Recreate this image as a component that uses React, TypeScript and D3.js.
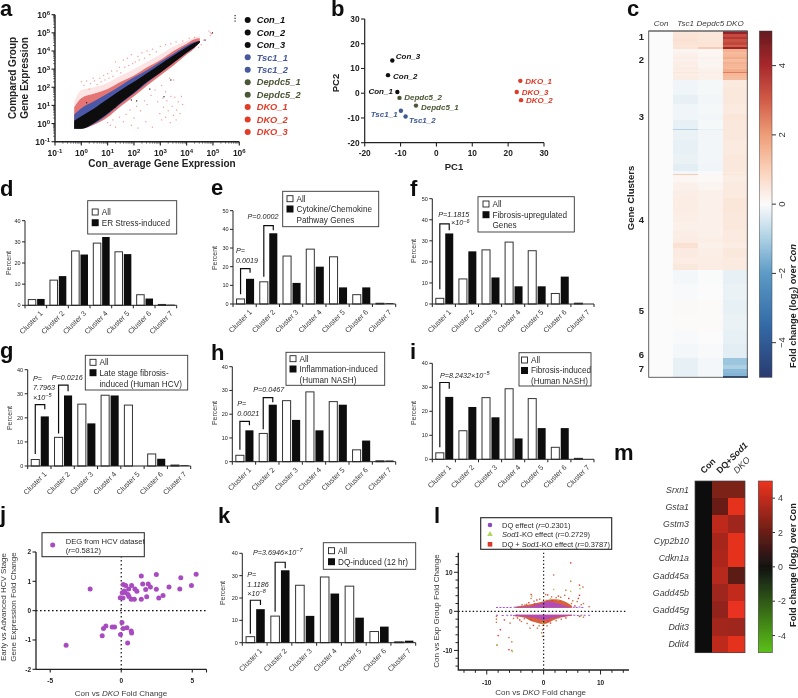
import React from "react";
import * as d3 from "d3";

// ---------- shared ----------
const FONT = "'Liberation Sans', Arial, sans-serif";
const clusters = ["Cluster 1", "Cluster 2", "Cluster 3", "Cluster 4", "Cluster 5", "Cluster 6", "Cluster 7"];

// ---------- bar panels (percent per cluster) ----------
const allGenes = [2.7, 11.9, 25.7, 29.4, 25.3, 5.0, 0.4];
const erStress = [3.0, 13.8, 24.0, 32.3, 24.2, 3.2, 0.3];
const cytokine = [13.5, 37.9, 11.3, 20.0, 8.9, 8.9, 0.4];
const fibrosisUp = [33.5, 25.0, 12.6, 8.4, 8.4, 13.0, 0.0];
const lateFibrosis = [20.6, 29.3, 17.7, 29.3, 0.0, 3.0, 0.3];
const inflammation = [13.2, 24.0, 17.6, 13.2, 24.0, 8.9, 0.5];
const fibrosisInduced = [26.0, 21.8, 17.5, 8.7, 13.0, 13.0, 0.0];
const dqInduced = [15.0, 32.4, 12.0, 22.0, 11.2, 7.2, 0.9];

// ---------- panel a (log10 units) ----------
const aBandX = [-0.27, 0, 0.5, 1, 1.5, 2, 2.5, 3, 3.5, 4, 4.3, 4.5];
const aBlackLo = [-0.28, -0.28, 0.05, 0.55, 1.15, 1.7, 2.3, 2.8, 3.35, 3.9, 4.2, 4.45];
const aBlackHi = [0.15, 0.4, 0.85, 1.35, 1.85, 2.3, 2.78, 3.27, 3.75, 4.2, 4.45, 4.55];
const aBlueLo = [-0.28, -0.28, 0, 0.5, 1.1, 1.65, 2.25, 2.8, 3.35, 3.9, 4.2, 4.5];
const aBlueHi = [0.5, 0.85, 1.25, 1.65, 2.1, 2.55, 2.95, 3.4, 3.85, 4.3, 4.5, 4.55];
const aRedLo = [-0.28, -0.28, -0.05, 0.35, 0.95, 1.5, 2.1, 2.65, 3.2, 3.8, 4.15, 4.5];
const aRedHi = [0.9, 1.4, 1.65, 1.9, 2.3, 2.65, 3.1, 3.5, 4.0, 4.4, 4.65, 4.7];
const aPinkHi = [1.2, 1.85, 2.0, 2.25, 2.65, 3.0, 3.4, 3.8, 4.25, 4.55, 4.75, 4.8];
const aPinkPts: [number, number][] = [
  [0.0, 2.3], [0.1, 2.1], [0.2, 2.35], [0.3, 1.9], [0.35, 2.2], [0.45, 2.5], [0.5, 2.35], [0.6, 2.15], [0.7, 2.5], [0.75, 2.3],
  [0.85, 2.65], [0.9, 2.4], [1.0, 2.75], [1.05, 2.5], [1.15, 2.9], [1.2, 2.6], [1.3, 3.4], [1.35, 2.9], [1.45, 3.1], [1.5, 2.8],
  [1.6, 3.5], [1.65, 3.1], [1.75, 3.6], [1.8, 3.2], [1.9, 3.8], [1.95, 3.3], [2.05, 3.4], [2.15, 3.7], [2.2, 3.5], [2.3, 3.9],
  [2.4, 3.6], [2.5, 4.0], [2.6, 3.8], [2.7, 4.1], [2.85, 3.95], [3.0, 4.25], [3.2, 4.35], [3.4, 4.4], [3.6, 4.5], [3.85, 4.55], [4.1, 4.7], [4.3, 4.75],
  [1.0, 0.05], [1.1, -0.1], [1.2, 0.2], [1.3, -0.2], [1.45, 0.35], [1.6, 0.1], [1.7, 0.5], [1.85, 0.75], [2.0, 0.3], [2.1, 0.95], [2.25, 0.7],
  [2.4, 1.25], [2.5, 1.05], [2.65, 1.55], [2.8, 1.85], [2.9, 1.2], [3.05, 2.1], [3.2, 1.75], [3.35, 2.5], [3.5, 2.4],
  [2.98, 0.55], [3.05, 0.2], [3.12, 0.9], [3.2, 0.35], [3.25, 1.25], [3.3, 0.7], [3.38, 0.05], [3.45, 0.95], [3.5, 0.45], [3.55, 1.45],
  [3.62, 0.75], [3.68, 1.2], [3.75, 0.55], [3.8, 1.5], [3.85, 1.05], [3.4, 1.5], [3.1, 1.4], [3.6, 0.2],
  [2.7, -0.2], [2.45, 0.1], [2.15, -0.25], [1.9, -0.1], [4.45, 4.2], [4.55, 4.35], [4.65, 4.6], [4.85, 5.1], [4.9, 5.0], [4.95, 4.95], [4.9, 4.85],
];
const aBlackPts: [number, number][] = [
  [5.84, 5.95], [5.84, 5.8], [5.84, 5.65], [4.98, 5.0], [3.14, 1.48], [1.9, 1.3], [2.6, 1.9], [0.2, 1.15], [3.4, 2.4], [2.1, 1.25], [1.3, 0.9], [4.7, 4.6],
];
const aLegendNames = ["Con_1", "Con_2", "Con_3", "Tsc1_1", "Tsc1_2", "Depdc5_1", "Depdc5_2", "DKO_1", "DKO_2", "DKO_3"];
const aExponents = [-1, 0, 1, 2, 3, 4, 5, 6];

// ---------- panel b ----------
const pcaNames = ["Con_3", "Con_2", "Con_1", "Depdc5_2", "Depdc5_1", "Tsc1_1", "Tsc1_2", "DKO_1", "DKO_3", "DKO_2"];
const pc1 = [-12.3, -13.5, -10.9, -10.3, -5.7, -9.9, -8.6, 23.4, 22.4, 23.6];
const pc2 = [13.2, 7.3, 0.5, -1.9, -5.0, -7.1, -9.4, 5.0, 0.5, -2.8];

// ---------- panel c ----------
const heatCols = ["Con", "Tsc1", "Depdc5", "DKO"];
const rowWeight = [8, 10, 6, 10, 8, 7, 6, 8, 6, 10, 5, 9, 7, 10, 4, 8, 3, 10, 12, 20, 25, 25, 30, 20, 25, 5, 30, 40, 30, 20, 10, 3, 20, 25, 25, 40, 30, 25, 25, 15, 15, 25, 20, 20, 40, 50, 40, 50, 40, 42, 20, 14, 12, 8, 4];
const rowTsc1 = [0.5, 0.55, 0.55, 0.6, 0.55, 0.5, 0.55, 0.15, 0.2, 0.25, 0.3, 0.25, 0.3, 0.3, 0.4, 0.3, 0.5, 0.3, 0.35, -0.15, -0.15, -0.25, -0.15, -0.15, -0.25, -0.9, -0.2, -0.25, -0.2, -0.3, -0.1, 1.1, 0.12, 0.25, 0.3, 0.35, 0.3, 0.25, 0.3, 0.35, 0.6, 0.4, 0.35, 0.45, -0.1, -0.05, 0.05, 0.03, -0.05, -0.1, -0.25, -0.25, -0.25, -0.25, -0.25];
const rowDepdc5 = [0.45, 0.5, 0.5, 0.5, 0.55, 0.5, 1.1, 0.1, 0.12, 0.12, 0.2, 0.15, 0.15, 0.15, 0.2, 0.25, 0.3, 0.25, 0.25, -0.08, -0.08, -0.12, -0.08, -0.12, -0.08, -0.25, -0.12, -0.12, -0.12, -0.15, -0.05, 0.1, 0.08, 0.15, 0.25, 0.25, 0.25, 0.25, 0.25, 0.3, 0.25, 0.3, 0.35, 0.35, -0.03, 0, 0.03, 0.03, 0, -0.05, -0.1, -0.1, -0.1, -0.1, -0.1];
const rowDko = [4.3, 3.3, 3.7, 3.2, 3.4, 3.0, 4.2, 1.6, 1.4, 1.5, 1.7, 1.4, 1.6, 1.5, 1.4, 1.7, 2.5, 1.5, 1.4, 0.4, 0.45, 0.45, 0.4, 0.5, 0.45, 0.5, 0.45, 0.4, 0.45, 0.45, 0.4, 0.5, 0.35, 0.4, 0.4, 0.5, 0.45, 0.45, 0.4, 0.4, 0.35, 0.45, 0.4, 0.4, -0.25, -0.2, -0.25, -0.2, -0.25, -0.3, -1.2, -1.0, -1.4, -1.5, -4.6];
const clusterLabelNames = ["1", "2", "3", "4", "5", "6", "7"];
const clusterLabelRows = [17, 87, 255, 564, 837, 967, 1009];
const divergingTicks = [4, 2, 0, -2, -4];
const divergingDomain = [-5, -3.5, -2, -1, 0, 1, 2, 3, 4, 5];
const divergingColors = ["#2a3b70", "#336aa6", "#5c9ac6", "#acd0e4", "#fbfbfb", "#fbd0b8", "#ee9d78", "#d15c47", "#a9282c", "#641a20"];

// ---------- panel j ----------
const jX = [-2.19, -3.88, 5.27, 4.94, 4.19, 4.12, 3.36, 2.94, 2.64, 2.47, 2.47, 2.05, 1.9, 1.72, 1.79, 1.51, 1.41, 1.41, 1.1, 0.96, 0.73, 0.7, 0.92, 0.54, 0.52, 0.31, 0.14, 0.21, 0.07, 0.28, -0.07, 0.12, 0.47, 0.05, 0.14, 0.4, 0.7, 0.73, -0.05, 0.45, -1.34, -1.25, -1.08, -0.64, -0.47];
const jY = [0.74, -1.18, 1.24, 0.86, 1.12, 0.74, 0.81, 0.52, 0.43, 1.23, 0.73, 0.81, 0.91, 0.72, 0.47, 0.91, 1.18, 0.39, 0.66, 0.74, 0.86, 0.39, 0.39, 0.48, 0.74, 0.86, 0.89, 0.67, 0.61, 0.62, 0.44, 0.43, 0.55, -0.4, -0.61, -0.58, -0.69, -0.76, -0.81, -1.1, -0.86, -0.61, -0.52, -0.56, -0.56];

// ---------- panel l ----------
const lUpX = [-5, -3.5, -2, -1, 0, 1, 2, 3, 4, 5];
const lUpRed = [1.2, 1.5, 1.9, 2.2, 2.6, 3.0, 3.1, 2.9, 2.3, 1.4];
const lUpPurple = [1.0, 1.15, 1.4, 1.8, 2.3, 2.6, 2.2, 1.8, 1.3, 1.0];
const lLowX = [-5, -3.5, -2, -1, 0, 1, 2, 3, 4, 5];
const lLowRed = [-1.3, -1.6, -2.6, -3.0, -3.3, -2.8, -2.1, -1.6, -1.3, -1.1];
const lLowPurple = [-1.1, -1.3, -1.6, -1.9, -2.2, -1.9, -1.6, -1.4, -1.2, -1.05];
const lOrangePts: [number, number][] = [
  [4.75, 12.4], [1.76, 9.3], [4.75, 7.7], [6.3, 6.7], [6.9, 6.2], [3.9, 5.4], [-2.2, 4.3], [-2.2, 3.3], [0.35, 4.3], [0.7, 4.2], [-3, 1.8], [-3.3, 1.6],
  [6.3, 4.1], [7, 2], [8, 1.2], [6.1, 3.3], [5.9, 2.5], [5.1, 2.7], [4.4, 3.3], [3.7, 4.1], [3.0, 3.6], [2.6, 3.9], [2.2, 3.5], [1.4, 3.7], [-1.2, 2.9], [-0.7, 3.1], [-1.7, 2.6], [-2.6, 2.2], [-3.8, 1.7], [4.9, 2.0], [5.5, 1.4], [6.6, 1.7],
  [-8.2, -8.7], [-8, -6.2], [-6.1, -6.7], [-5.6, -7.8], [-6.1, -9.8], [-5.6, -10], [-8.3, -2.8], [-6.9, -2.2], [-5.9, -3], [-5.3, -1.8], [-7.6, -4.7], [-0.2, -6.4], [-0.2, -4.7], [-0.1, -3.6],
  [-2.4, -4.3], [-3.9, -2.6], [-4.2, -2.2], [-1.1, -4.3], [-0.35, -5.5], [-1.8, -3.6], [-2.9, -3.1], [-3.4, -1.9], [-4.6, -1.7], [-0.8, -3.7], [0.6, -3.7], [1.2, -3.0], [2.2, -2.4], [3.1, -2.0], [3.9, -1.7], [-8.3, -2.0], [-8.3, -1.3], [6.3, -1.3], [7.0, -1.5],
  [-2.6, 1.4], [-1.6, 1.9], [-0.6, 2.1], [0.5, 2.8], [1.5, 2.7], [2.4, 2.4], [3.4, 2.2], [-2.2, -2.2], [-1.2, -2.6], [-0.3, -2.9], [0.8, -2.5], [1.7, -2.0], [2.7, -1.6],
];
const lGreenPts: [number, number][] = [[4.75, 5.1], [1.76, 5.6], [-2.1, 3.9], [-8.2, -8.5], [-5.5, -10.3], [-0.2, -2.9], [0, -3.2], [6.4, 5.8], [1.2, 3.2], [6.5, -1.2], [2.6, 2.9]];
const lPurplePts: [number, number][] = [
  [-8.2, 1], [-7.6, 1], [-7, 1], [-6.4, 1], [-5.8, 1], [-5.1, 1.05], [-4.6, 1], [5.3, 1.05], [5.8, 1], [6.3, 1.1], [6.8, 1], [8, -1], [7.2, -1],
  [-8.2, -1], [-7.2, -1.05], [-6.4, -1], [-5.7, -1], [-5.2, -1.1], [-4.7, -1], [5.4, -1], [6, -1.05], [6.6, -1],
];

// ---------- panel m ----------
const genes = ["Srxn1", "Gsta1", "Gstm3", "Cyp2b10", "Cdkn1a", "Gadd45a", "Gadd45b", "Gadd45g", "Ddit3", "Ddit4"];
const mCon = [0, 0, 0, 0, 0, 0, 0, 0, 0, 0];
const mDq = [2.4, 2.0, 3.9, 3.4, 3.5, 3.7, 3.2, 2.9, 3.3, 3.9];
const mDko = [2.4, 4.8, 3.2, 4.8, 4.8, 1.7, 4.0, 4.9, 3.2, 4.8];
const mTicks = [4, 2, 0, -2, -4];

// ---------- layout of bar panels ----------
type Bracket = { c: number; lo: number; top: number; hi: number };
type Note = { x: number; y: number; t: string; sup?: string };
type BarCfg = {
  values: number[]; left: number; right: number; y0: number; yTop: number; yMax: number;
  percentX: number; percentY: number; box: number[]; rows: number[]; lines: string[]; textX: number;
  brackets: Bracket[]; notes: Note[];
};
const barPanels: BarCfg[] = [
  { values: erStress, left: 25, right: 176.7, y0: 305.3, yTop: 220.7, yMax: 40, percentX: 9, percentY: 263, box: [87.7, 200.7, 176.7, 234], rows: [212, 222.7], lines: ["All", "ER Stress-induced"], textX: 101.7, brackets: [], notes: [] },
  { values: cytokine, left: 233, right: 395.7, y0: 304, yTop: 210.7, yMax: 50, percentX: 215, percentY: 258, box: [282.7, 191.3, 378.7, 226.7], rows: [198.7, 209, 220], lines: ["All", "Cytokine/Chemokine", "Pathway Genes"], textX: 296.5,
    brackets: [{ c: 0, lo: 5.2, top: 19, hi: 16.8 }, { c: 1, lo: 14.6, top: 42, hi: 39.5 }],
    notes: [{ x: 236, y: 253, t: "P=" }, { x: 236, y: 263, t: "0.0019" }, { x: 247.5, y: 218.7, t: "P=0.0002" }] },
  { values: fibrosisUp, left: 432.3, right: 594, y0: 304, yTop: 198.7, yMax: 50, percentX: 414, percentY: 251, box: [478, 196.7, 574.3, 232], rows: [204, 214.7, 225.3], lines: ["All", "Fibrosis-upregulated", "Genes"], textX: 492.5,
    brackets: [{ c: 0, lo: 7, top: 38, hi: 35 }],
    notes: [{ x: 438.3, y: 216.7, t: "P=1.1815" }, { x: 451, y: 225, t: "×10", sup: "−6" }] },
  { values: lateFibrosis, left: 27.7, right: 190.7, y0: 466, yTop: 369.7, yMax: 40, percentX: 10, percentY: 418, box: [85.3, 355.3, 187.7, 390], rows: [362.3, 372.7, 383.7], lines: ["All", "Late stage fibrosis-", "induced (Human HCV)"], textX: 99.5,
    brackets: [{ c: 0, lo: 5, top: 25.5, hi: 23.6 }, { c: 1, lo: 13.5, top: 33.6, hi: 31 }],
    notes: [{ x: 33, y: 381, t: "P=" }, { x: 33, y: 390, t: "7.7963" }, { x: 33, y: 399.5, t: "×10", sup: "−5" }, { x: 51.7, y: 380, t: "P=0.0216" }] },
  { values: inflammation, left: 232.3, right: 395.7, y0: 461.7, yTop: 366.7, yMax: 40, percentX: 215, percentY: 413, box: [286, 352.3, 384.7, 385.3], rows: [358.7, 369, 379.7], lines: ["All", "Inflammation-induced", "(Human NASH)"], textX: 299.5,
    brackets: [{ c: 0, lo: 5, top: 17, hi: 15.3 }, { c: 1, lo: 13.7, top: 27, hi: 25 }],
    notes: [{ x: 237.3, y: 406, t: "P=" }, { x: 237.3, y: 416, t: "0.0021" }, { x: 253.3, y: 391.7, t: "P=0.0467" }] },
  { values: fibrosisInduced, left: 432.3, right: 594, y0: 459.3, yTop: 363.3, yMax: 40, percentX: 414, percentY: 413, box: [519, 352.7, 591, 386], rows: [360, 370.5, 381], lines: ["All", "Fibrosis-induced", "(Human NASH)"], textX: 531,
    brackets: [{ c: 0, lo: 5, top: 32, hi: 29.4 }],
    notes: [{ x: 440, y: 377.7, t: "P=8.2432×10", sup: "−5" }] },
  { values: dqInduced, left: 242.3, right: 415.7, y0: 642.7, yTop: 553.3, yMax: 40, percentX: 222.7, percentY: 593, box: [323.3, 542.7, 415.7, 569.3], rows: [550.7, 561.7], lines: ["All", "DQ-induced (12 hr)"], textX: 338,
    brackets: [{ c: 0, lo: 4, top: 19, hi: 16.9 }, { c: 1, lo: 13.9, top: 36, hi: 33.3 }],
    notes: [{ x: 247.3, y: 577, t: "P=" }, { x: 247.3, y: 587, t: "1.1186" }, { x: 247.3, y: 595.5, t: "×10", sup: "−8" }, { x: 253, y: 554.7, t: "P=3.6946×10", sup: "−7" }] },
];
const panelLetters: [string, number, number][] = [
  ["a", 0, 16], ["b", 331, 16], ["c", 627, 16], ["d", 0, 196], ["e", 211, 195], ["f", 410, 196], ["g", 0, 358],
  ["h", 211, 360], ["i", 410, 359], ["j", 0, 522], ["k", 218, 523], ["l", 434, 523], ["m", 614, 460],
];

const AXIS = "#222";
const GREY = "#3a3a3a";

function BarPanel({ cfg }: { cfg: BarCfg }) {
  const x = d3.scaleBand<string>().domain(clusters).range([cfg.left, cfg.right]);
  const inner = d3.scaleBand<string>().domain(["all", "sel"]).range([0, x.bandwidth()]).paddingInner(0.15).paddingOuter(0.3).align(0.62);
  const y = d3.scaleLinear().domain([0, cfg.yMax]).range([cfg.y0, cfg.yTop]);
  const w = inner.bandwidth();
  return (
    <g>
      {clusters.map((c, i) => (
        <g key={c}>
          <rect x={x(c)! + inner("all")!} y={y(allGenes[i])} width={w} height={cfg.y0 - y(allGenes[i])} fill="#fff" stroke="#333" strokeWidth={1} />
          <rect x={x(c)! + inner("sel")!} y={y(cfg.values[i])} width={w} height={cfg.y0 - y(cfg.values[i])} fill="#0c0c0c" />
          <text transform={`translate(${x(c)! + x.bandwidth() * 0.72},${cfg.y0 + 6}) rotate(-45)`} textAnchor="end" fontSize={7.3} fill={GREY} dy="0.5em">{c}</text>
        </g>
      ))}
      <path d={`M${cfg.left},${cfg.yTop}V${cfg.y0}H${cfg.right}`} fill="none" stroke={AXIS} strokeWidth={1} />
      {d3.range(0, cfg.yMax + 1, 10).map((t) => (
        <g key={t}>
          <line x1={cfg.left - 3} x2={cfg.left} y1={y(t)} y2={y(t)} stroke={AXIS} />
          <text x={cfg.left - 4.5} y={y(t)} dy="0.35em" textAnchor="end" fontSize={5.5} fill="#222">{t}</text>
        </g>
      ))}
      {d3.range(0, 8).map((i) => (
        <line key={i} x1={cfg.left + i * x.bandwidth()} x2={cfg.left + i * x.bandwidth()} y1={cfg.y0} y2={cfg.y0 + 3} stroke={AXIS} />
      ))}
      <text transform={`translate(${cfg.percentX + 2},${cfg.percentY}) rotate(-90)`} textAnchor="middle" fontSize={7} fill={GREY}>Percent</text>
      {cfg.brackets.map((b) => {
        const c = clusters[b.c];
        const xa = x(c)! + inner("all")! + w / 2;
        const xb = x(c)! + inner("sel")! + w / 2;
        return <path key={b.c} d={`M${xa},${y(b.lo)}V${y(b.top)}H${xb}V${y(b.hi)}`} fill="none" stroke="#111" strokeWidth={1.2} />;
      })}
      {cfg.notes.map((n, i) => (
        <text key={i} x={n.x} y={n.y} fontSize={7.2} fontStyle="italic" fill="#222">
          {n.t}
          {n.sup && <tspan dy={-2.5} fontSize={5.5}>{n.sup}</tspan>}
        </text>
      ))}
      <rect x={cfg.box[0]} y={cfg.box[1]} width={cfg.box[2] - cfg.box[0]} height={cfg.box[3] - cfg.box[1]} fill="#fff" stroke="#333" strokeWidth={0.9} />
      {cfg.lines.map((l, i) => (
        <g key={i}>
          {i === 0 && <rect x={cfg.textX - 9.5} y={cfg.rows[0] - 3} width={6} height={6} fill="#fff" stroke="#222" strokeWidth={0.9} />}
          {i === 1 && <rect x={cfg.textX - 10} y={cfg.rows[1] - 3.5} width={7} height={7} fill="#111" />}
          <text x={cfg.textX} y={cfg.rows[i]} dy="0.35em" fontSize={8.2} fill="#2a2a2a">{l}</text>
        </g>
      ))}
    </g>
  );
}

function PanelA() {
  const x = d3.scaleLinear().domain([-1, 6]).range([55, 239.3]);
  const y = d3.scaleLinear().domain([-1, 6]).range([141.7, 14.7]);
  const band = (lo: number[], hi: number[]) =>
    d3.area<number>().x((_, i) => x(aBandX[i])).y0((_, i) => y(lo[i])).y1((_, i) => y(hi[i])).curve(d3.curveMonotoneX)(aBandX) || "";
  const names = d3.scaleOrdinal<string, string>().domain(["Con", "Tsc1", "Dep", "DKO"]).range(["#111", "#46589c", "#4c5636", "#e23a27"]);
  const groupOf = (n: string) => (n.startsWith("Con") ? "Con" : n.startsWith("Tsc") ? "Tsc1" : n.startsWith("Dep") ? "Dep" : "DKO");
  const rowY = d3.scaleLinear().domain([0, 9]).range([20, 132]);
  return (
    <g>
      <path d={band(aRedLo, aPinkHi)} fill="#f7bcbc" opacity={0.4} />
      <path d={band(aRedLo, aRedHi)} fill="#dd4a48" opacity={0.72} />
      {aPinkPts.map((p, i) => <rect key={i} x={x(p[0]) - 0.6} y={y(p[1]) - 0.6} width={1.2} height={1.2} fill="#f29a9a" />)}
      <path d={band(aBlueLo, aBlueHi)} fill="#4c58a8" />
      <path d={band(aBlackLo, aBlackHi)} fill="#0a0a0a" />
      {aBlackPts.map((p, i) => <rect key={i} x={x(p[0]) - 0.6} y={y(p[1]) - 0.6} width={1.2} height={1.2} fill="#222" />)}
      <path d={`M55,14.7V141.7H239.3`} fill="none" stroke={AXIS} strokeWidth={1.4} />
      {aExponents.map((e) => (
        <g key={e}>
          <line x1={51.5} x2={55} y1={y(e)} y2={y(e)} stroke={AXIS} strokeWidth={1.1} />
          <line x1={x(e)} x2={x(e)} y1={141.7} y2={145.5} stroke={AXIS} strokeWidth={1.1} />
          {e < 6 && d3.range(2, 10).map((m) => (
            <g key={m}>
              <line x1={53} x2={55} y1={y(e + Math.log10(m))} y2={y(e + Math.log10(m))} stroke={AXIS} strokeWidth={0.6} />
              <line x1={x(e + Math.log10(m))} x2={x(e + Math.log10(m))} y1={141.7} y2={143.7} stroke={AXIS} strokeWidth={0.6} />
            </g>
          ))}
          <text x={50} y={y(e) + 3.5} textAnchor="end" fontSize={8.5} fontWeight="bold" fill="#222">10<tspan dy={-3} fontSize={6}>{e < 0 ? "-1" : e}</tspan></text>
          <text x={x(e)} y={156} textAnchor="middle" fontSize={8.5} fontWeight="bold" fill="#222">10<tspan dy={-3} fontSize={6}>{e < 0 ? "-1" : e}</tspan></text>
        </g>
      ))}
      <text transform="translate(16,78) rotate(-90)" textAnchor="middle" fontSize={10} fontWeight="bold" fill="#222">Compared Group</text>
      <text transform="translate(28,78) rotate(-90)" textAnchor="middle" fontSize={10} fontWeight="bold" fill="#222">Gene Expression</text>
      <text x={162} y={167} textAnchor="middle" fontSize={10} fontWeight="bold" fill="#222">Con_average Gene Expression</text>
      {aLegendNames.map((n, i) => (
        <g key={n}>
          <circle cx={247.7} cy={rowY(i)} r={3} fill={names(groupOf(n))} />
          <text x={256.7} y={rowY(i)} dy="0.35em" fontSize={9.3} fontWeight="bold" fontStyle="italic" fill={names(groupOf(n))}>{n}</text>
        </g>
      ))}
    </g>
  );
}

function PanelB() {
  const x = d3.scaleLinear().domain([-20, 30]).range([364.7, 544]);
  const y = d3.scaleLinear().domain([-20, 30]).range([142.7, 19]);
  const color = (n: string) => (n.startsWith("Con") ? "#111" : n.startsWith("Tsc") ? "#3f5a90" : n.startsWith("Dep") ? "#4c5636" : "#dd3a27");
  const labelDx = [3.5, 5, -4.5, 4.7, 5, -3.3, 3.3, 5, 5, 5];
  const labelDy = [-4.3, 1, -1, -1, 2, 3.7, 4, 0, 0, 0];
  return (
    <g>
      <path d="M364.7,19V142.7H544" fill="none" stroke={AXIS} strokeWidth={1.2} />
      {d3.range(-20, 31, 10).map((t) => (
        <g key={t}>
          <line x1={361} x2={364.7} y1={y(t)} y2={y(t)} stroke={AXIS} strokeWidth={1.1} />
          <line x1={x(t)} x2={x(t)} y1={142.7} y2={146.5} stroke={AXIS} strokeWidth={1.1} />
          <text x={359.5} y={y(t)} dy="0.35em" textAnchor="end" fontSize={8.3} fontWeight="bold" fill="#222">{t}</text>
          <text x={x(t)} y={156} textAnchor="middle" fontSize={8.3} fontWeight="bold" fill="#222">{t}</text>
        </g>
      ))}
      <text x={454} y={170} textAnchor="middle" fontSize={9.5} fontWeight="bold" fill="#222">PC1</text>
      <text transform="translate(339,83) rotate(-90)" textAnchor="middle" fontSize={9.5} fontWeight="bold" fill="#222">PC2</text>
      {pcaNames.map((n, i) => (
        <g key={n}>
          <circle cx={x(pc1[i])} cy={y(pc2[i])} r={2.2} fill={color(n)} />
          <text x={x(pc1[i]) + labelDx[i]} y={y(pc2[i]) + labelDy[i]} dy="0.35em" textAnchor={labelDx[i] < 0 ? "end" : "start"} fontSize={8} fontWeight="bold" fontStyle="italic" fill={color(n)}>{n}</text>
        </g>
      ))}
    </g>
  );
}

function PanelC() {
  const color = d3.scaleLinear<string>().domain(divergingDomain).range(divergingColors).clamp(true);
  const total = d3.sum(rowWeight);
  const y = d3.scaleLinear().domain([0, total]).range([31, 377.3]);
  const x = d3.scaleBand<string>().domain(heatCols).range([648.7, 747.3]);
  const tops = d3.cumsum(rowWeight);
  const scale = d3.scaleLinear().domain([5, -5]).range([31, 377.3]);
  const stops = d3.range(-5, 5.01, 0.5);
  const colVals = [rowWeight.map(() => 0), rowTsc1, rowDepdc5, rowDko];
  return (
    <g>
      <defs>
        <linearGradient id="divbar" x1="0" y1="1" x2="0" y2="0">
          {stops.map((s) => <stop key={s} offset={(s + 5) / 10} stopColor={color(s)} />)}
        </linearGradient>
      </defs>
      {heatCols.map((c, ci) => (
        <g key={c}>
          {rowWeight.map((wt, i) => (
            <rect key={i} x={x(c)} width={x.bandwidth() + 0.3} y={y(tops[i] - wt)} height={y(tops[i]) - y(tops[i] - wt) + 0.3} fill={color(colVals[ci][i])} shapeRendering="crispEdges" />
          ))}
          <text x={x(c)! + x.bandwidth() / 2} y={26} textAnchor="middle" fontSize={8} fontStyle="italic" fill={GREY}>{c}</text>
        </g>
      ))}
      <rect x={648.7} y={31} width={98.6} height={346.3} fill="none" stroke="#555" strokeWidth={0.9} />
      <path d="M648.7,31H747.3" stroke="#666" strokeWidth={1.2} />
      {clusterLabelNames.map((n, i) => (
        <text key={n} x={644} y={y(clusterLabelRows[i])} dy="0.35em" textAnchor="end" fontSize={9.5} fontWeight="bold" fill="#222">{n}</text>
      ))}
      <text transform="translate(634,198) rotate(-90)" textAnchor="middle" fontSize={9.5} fontWeight="bold" fill="#222">Gene Clusters</text>
      <rect x={759.3} y={31} width={12.7} height={346.3} fill="url(#divbar)" stroke="#444" strokeWidth={0.5} />
      {divergingTicks.map((t) => (
        <g key={t}>
          <line x1={772} x2={776} y1={scale(t)} y2={scale(t)} stroke="#333" />
          <text transform={`translate(782,${scale(t)}) rotate(-90)`} textAnchor="middle" dy="0.35em" fontSize={9.5} fill="#333">{t < 0 ? `−${-t}` : t}</text>
        </g>
      ))}
      <text transform="translate(796,306) rotate(-90)" textAnchor="middle" fontSize={9.3} fontWeight="bold" fill="#222">
        Fold change (log<tspan dy={2} fontSize={6.5}>2</tspan><tspan dy={-2}>) over </tspan><tspan fontStyle="italic">Con</tspan>
      </text>
    </g>
  );
}

function PanelJ() {
  const x = d3.scaleLinear().domain([-6, 6]).range([36, 206.5]);
  const y = d3.scaleLinear().domain([-2, 2]).range([669.3, 552]);
  return (
    <g>
      <line x1={x(0)} x2={x(0)} y1={552} y2={669} stroke="#111" strokeWidth={1.2} strokeDasharray="1.6 2.4" />
      <line x1={36} x2={206} y1={y(0)} y2={y(0)} stroke="#111" strokeWidth={1.2} strokeDasharray="1.6 2.4" />
      {jX.map((v, i) => <circle key={i} cx={x(v)} cy={y(jY[i])} r={2.5} fill="#a94cc0" />)}
      <path d="M36,552V669.3H206.5" fill="none" stroke={AXIS} strokeWidth={1.3} />
      {d3.range(-2, 3).map((t) => (
        <g key={t}>
          <line x1={32.5} x2={36} y1={y(t)} y2={y(t)} stroke={AXIS} strokeWidth={1.1} />
          <text x={31} y={y(t)} dy="0.35em" textAnchor="end" fontSize={6.5} fontWeight="bold" fill="#222">{t}</text>
        </g>
      ))}
      {[-5, 0, 5, 6].map((t) => (
        <g key={t}>
          <line x1={x(t)} x2={x(t)} y1={669.3} y2={672.5} stroke={AXIS} strokeWidth={1.1} />
          {t !== 6 && <text x={x(t)} y={683} textAnchor="middle" fontSize={6.5} fontWeight="bold" fill="#222">{t}</text>}
        </g>
      ))}
      <text transform="translate(6,607) rotate(-90)" textAnchor="middle" fontSize={8} fill={GREY}>Early vs Advanced HCV Stage</text>
      <text transform="translate(15.5,607) rotate(-90)" textAnchor="middle" fontSize={8} fill={GREY}>Gene Expression Fold Change</text>
      <text x={121} y={696} textAnchor="middle" fontSize={8} fill={GREY}>Con vs <tspan fontStyle="italic">DKO</tspan> Fold Change</text>
      <rect x={42} y={532.7} width={102.3} height={24} fill="#fff" stroke="#222" strokeWidth={1} />
      <circle cx={52.7} cy={545} r={2.5} fill="#a94cc0" />
      <text x={65.7} y={543.5} fontSize={7.6} fill="#2a2a2a">DEG from HCV dataset</text>
      <text x={65.7} y={552.5} fontSize={7.6} fill="#2a2a2a">(<tspan fontStyle="italic">r</tspan>=0.5812)</text>
    </g>
  );
}

function PanelL() {
  const x = d3.scaleLinear().domain([-15, 15]).range([458.3, 629]);
  const y = d3.scaleLinear().domain([-15, 15]).range([670, 552.7]);
  const area = (xs: number[], edge: number[], base: number) =>
    d3.area<number>().x((_, i) => x(xs[i])).y0(y(base)).y1((_, i) => y(edge[i])).curve(d3.curveMonotoneX)(xs) || "";
  const legendY = [525, 534.3, 544.3];
  return (
    <g>
      <path d={area(lUpX, lUpRed, 0.9)} fill="#d9603a" />
      <path d={area(lLowX, lLowRed, -0.9)} fill="#d9603a" />
      <path d={area(lUpX, lUpPurple, 0.9)} fill="#b04bb8" />
      <path d={area(lLowX, lLowPurple, -0.9)} fill="#b04bb8" />
      {lPurplePts.map((p, i) => <rect key={i} x={x(p[0]) - 1} y={y(p[1]) - 0.5} width={2} height={1} fill="#a04cc8" />)}
      {lOrangePts.map((p, i) => <rect key={i} x={x(p[0]) - 0.7} y={y(p[1]) - 0.7} width={1.4} height={1.4} fill={i % 3 === 0 ? "#e0352a" : "#c4724a"} />)}
      {lGreenPts.map((p, i) => <rect key={i} x={x(p[0]) - 0.7} y={y(p[1]) - 0.7} width={1.4} height={1.4} fill="#a9c84e" />)}
      <line x1={x(0)} x2={x(0)} y1={552.7} y2={669} stroke="#111" strokeWidth={1.1} strokeDasharray="1.4 2.2" />
      <line x1={458.3} x2={626} y1={y(0)} y2={y(0)} stroke="#111" strokeWidth={1.1} strokeDasharray="1.4 2.2" />
      <path d="M458.3,552.7V670H629" fill="none" stroke={AXIS} strokeWidth={1.3} />
      {d3.range(-14, 15, 2).map((t) => (
        <g key={t}>
          <line x1={x(t)} x2={x(t)} y1={670} y2={t % 10 === 0 ? 674.5 : 672.8} stroke={AXIS} strokeWidth={1} />
          <line x1={t % 10 === 0 ? 454 : 455.5} x2={458.3} y1={y(t)} y2={y(t)} stroke={AXIS} strokeWidth={1} />
        </g>
      ))}
      {[-10, 0, 10].map((t) => (
        <g key={t}>
          <text x={x(t)} y={685} textAnchor="middle" fontSize={6.5} fontWeight="bold" fill="#222">{t}</text>
          <text x={452.5} y={y(t)} dy="0.35em" textAnchor="end" fontSize={6.5} fontWeight="bold" fill="#222">{t}</text>
        </g>
      ))}
      <text transform="translate(439,611) rotate(-90)" textAnchor="middle" fontSize={8} fill={GREY}>Con vs Exp Group Fold Change</text>
      <text x={540.7} y={695} textAnchor="middle" fontSize={8} fill={GREY}>Con vs <tspan fontStyle="italic">DKO</tspan> Fold change</text>
      <rect x={480.7} y={517.7} width={131} height={31.6} fill="#fff" stroke="#222" strokeWidth={1.1} />
      <circle cx={490} cy={legendY[0]} r={2.3} fill="#8a4cc0" />
      <path d={d3.symbol().type(d3.symbolTriangle).size(14)() || ""} transform={`translate(490,${legendY[1]})`} fill="#b5d35e" />
      <rect x={487.7} y={legendY[2] - 2.3} width={4.6} height={4.6} fill="#e0352a" />
      <text x={502} y={legendY[0]} dy="0.35em" fontSize={7.5} fill="#2a2a2a">DQ effect (<tspan fontStyle="italic">r</tspan>=0.2301)</text>
      <text x={502} y={legendY[1]} dy="0.35em" fontSize={7.5} fill="#2a2a2a"><tspan fontStyle="italic">Sod1</tspan>-KO effect (<tspan fontStyle="italic">r</tspan>=0.2729)</text>
      <text x={502} y={legendY[2]} dy="0.35em" fontSize={7.5} fill="#2a2a2a">DQ + <tspan fontStyle="italic">Sod1</tspan>-KO effect (<tspan fontStyle="italic">r</tspan>=0.3787)</text>
    </g>
  );
}

function PanelM() {
  const color = d3.scaleLinear<string>().domain([-5, 0, 5]).range(["#5cc21a", "#111111", "#ee3220"]);
  const x = d3.scaleBand<string>().domain(["Con", "DQ", "DKO"]).range([695, 745]);
  const y = d3.scaleBand<string>().domain(genes).range([481, 652.7]);
  const bar = d3.scaleLinear().domain([5, -5]).range([481, 652.7]);
  const cols: [string, number[]][] = [["Con", mCon], ["DQ", mDq], ["DKO", mDko]];
  return (
    <g>
      <defs>
        <linearGradient id="gkr" x1="0" y1="1" x2="0" y2="0">
          <stop offset="0" stopColor="#5cc21a" />
          <stop offset="0.5" stopColor="#111111" />
          <stop offset="1" stopColor="#ee3220" />
        </linearGradient>
      </defs>
      {cols.map(([c, vals]) => vals.map((v, i) => (
        <rect key={c + i} x={x(c)} y={y(genes[i])} width={x.bandwidth() + 0.3} height={y.bandwidth() + 0.3} fill={color(v)} shapeRendering="crispEdges" />
      )))}
      <rect x={695} y={481} width={50} height={171.7} fill="none" stroke="#444" strokeWidth={0.7} />
      {genes.map((g) => (
        <text key={g} x={689} y={y(g)! + y.bandwidth() / 2} dy="0.35em" textAnchor="end" fontSize={8.8} fontStyle="italic" fill={GREY}>{g}</text>
      ))}
      <text transform="translate(704,474) rotate(-45)" fontSize={8.8} fontWeight="bold" fill="#222">Con</text>
      <text transform="translate(720,474) rotate(-45)" fontSize={8.8} fontWeight="bold" fill="#222">DQ+<tspan fontStyle="italic">Sod1</tspan></text>
      <text transform="translate(737,474) rotate(-45)" fontSize={8.8} fontStyle="italic" fill={GREY}>DKO</text>
      <rect x={758.3} y={481} width={14} height={171.7} fill="url(#gkr)" stroke="#444" strokeWidth={0.6} />
      {mTicks.map((t) => (
        <g key={t}>
          <line x1={772.3} x2={775} y1={bar(t)} y2={bar(t)} stroke="#333" />
          <text x={778} y={bar(t)} dy="0.35em" fontSize={8.8} fill={GREY}>{t < 0 ? `-${-t}` : t}</text>
        </g>
      ))}
      <text transform="translate(796,565) rotate(-90)" textAnchor="middle" fontSize={9.3} fontWeight="bold" fill="#222">
        Fold change (log<tspan dy={2} fontSize={6.5}>2</tspan><tspan dy={-2}>) over </tspan>Con
      </text>
    </g>
  );
}

export default function App() {
  return (
    <svg width={798} height={698} viewBox="0 0 798 698" style={{ position: "absolute", left: 0, top: 0, background: "#fff", fontFamily: FONT }}>
      <defs>
        <filter id="soft" filterUnits="userSpaceOnUse" x={0} y={0} width={798} height={698}>
          <feGaussianBlur stdDeviation={0.3} />
        </filter>
      </defs>
      <g filter="url(#soft)">
        <rect x={0} y={0} width={798} height={698} fill="#fff" />
        <PanelA />
        <PanelB />
        <PanelC />
        {barPanels.map((cfg, i) => <BarPanel key={i} cfg={cfg} />)}
        <PanelJ />
        <PanelL />
        <PanelM />
        {panelLetters.map(([l, x, y]) => (
          <text key={l} x={x} y={y} fontSize={22} fontWeight="bold" fill="#111">{l}</text>
        ))}
      </g>
    </svg>
  );
}
